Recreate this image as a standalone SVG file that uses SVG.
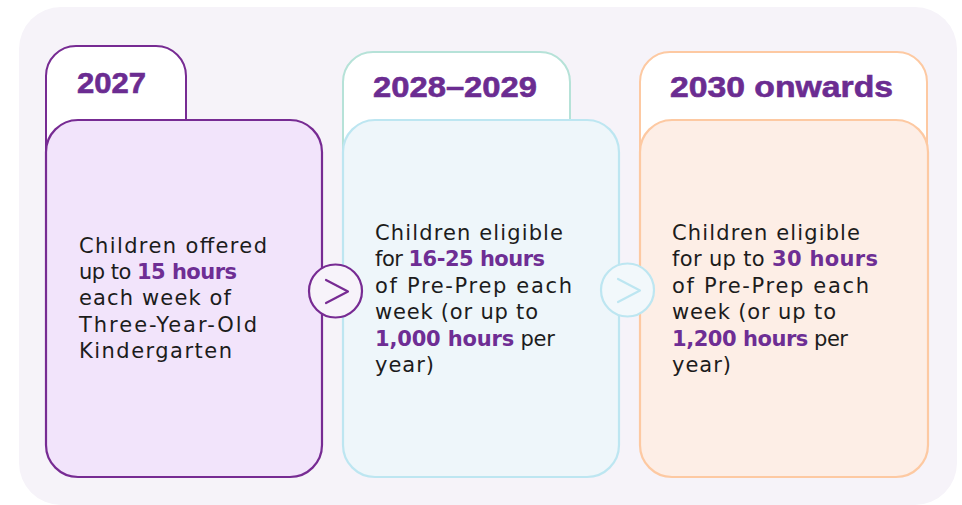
<svg xmlns="http://www.w3.org/2000/svg" width="962" height="505" viewBox="0 0 962 505">
<style>
.title{font-family:"Liberation Sans",Arial,sans-serif;font-weight:700;font-size:30px;fill:#6b2c91;stroke:#6b2c91;stroke-width:0.6}
.body{font-family:"DejaVu Sans","Liberation Sans",sans-serif;font-size:21px;fill:#1c1c1c}
.hl{font-weight:700;fill:#6e2e94}
.tab{fill:#ffffff;stroke-width:2}
.card{stroke-width:2.2}
</style>
<rect x="19" y="7" width="938" height="498" rx="42" fill="#f6f3f9"/>
<g id="node-2027">
<rect class="tab" x="46" y="46" width="140" height="150" rx="30" stroke="#772b93"/>
<rect class="card" x="46" y="120" width="276" height="357" rx="32" fill="#f2e4fb" stroke="#772b93"/>
<text class="title" x="77" y="93" textLength="69" lengthAdjust="spacingAndGlyphs">2027</text>
<text class="body" x="79" y="253" textLength="188">Children offered</text>
<text class="body" x="79" y="279" textLength="158">up to <tspan class="hl">15 hours</tspan></text>
<text class="body" x="79" y="305" textLength="152">each week of</text>
<text class="body" x="79" y="332" textLength="178">Three-Year-Old</text>
<text class="body" x="79" y="358" textLength="153">Kindergarten</text>
</g>
<g id="node-2028-2029">
<rect class="tab" x="343" y="52" width="227" height="150" rx="30" stroke="#b6e2d8"/>
<rect class="card" x="343" y="120" width="276" height="357" rx="32" fill="#eef6fa" stroke="#bde6f1"/>
<text class="title" x="373" y="97" textLength="164" lengthAdjust="spacingAndGlyphs">2028–2029</text>
<text class="body" x="375" y="240" textLength="188">Children eligible</text>
<text class="body" x="375" y="266" textLength="170">for <tspan class="hl">16-25 hours</tspan></text>
<text class="body" x="375" y="293" textLength="197">of Pre-Prep each</text>
<text class="body" x="375" y="319" textLength="163">week (or up to</text>
<text class="body" x="375" y="346" textLength="180"><tspan class="hl">1,000 hours</tspan> per</text>
<text class="body" x="375" y="372" textLength="59">year)</text>
</g>
<g id="node-2030">
<rect class="tab" x="640" y="52" width="287" height="150" rx="30" stroke="#fdc9a2"/>
<rect class="card" x="640" y="120" width="288" height="357" rx="32" fill="#fdeee6" stroke="#fdc9a2"/>
<text class="title" x="670" y="97" textLength="223" lengthAdjust="spacingAndGlyphs">2030 onwards</text>
<text class="body" x="672" y="240" textLength="188">Children eligible</text>
<text class="body" x="672" y="266" textLength="206">for up to <tspan class="hl">30 hours</tspan></text>
<text class="body" x="672" y="293" textLength="197">of Pre-Prep each</text>
<text class="body" x="672" y="319" textLength="164">week (or up to</text>
<text class="body" x="672" y="346" textLength="176"><tspan class="hl">1,200 hours</tspan> per</text>
<text class="body" x="672" y="372" textLength="59">year)</text>
</g>
<g id="connectors" fill="none" stroke-width="2.2" stroke-linecap="round" stroke-linejoin="round">
<circle cx="335.5" cy="291" r="26.5" fill="#f7f3fa" stroke="#772b93"/>
<polyline points="326,280 348,291.5 326,303" stroke="#772b93"/>
<circle cx="627.5" cy="290" r="26.5" fill="#f2f8fb" stroke="#bde6f1"/>
<polyline points="618,279 640,290.5 618,302" stroke="#bde6f1"/>
</g>
</svg>
